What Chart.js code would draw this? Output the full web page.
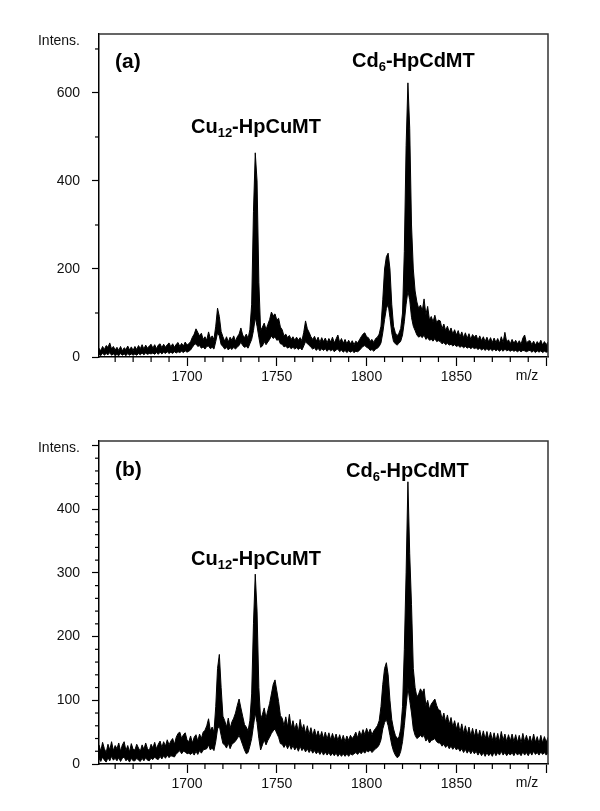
<!DOCTYPE html>
<html>
<head>
<meta charset="utf-8">
<script src="https://cdn.jsdelivr.net/npm/chart.js@4.4.0/dist/chart.umd.min.js"></script>
<style>
  html, body { margin: 0; padding: 0; background: #fff; }
  #wrap { position: relative; width: 600px; height: 811px; }
  canvas { position: absolute; left: 0; }
  #chartA { top: 0; }
  #chartB { top: 400px; }
</style>
</head>
<body>
<div id="wrap">
  <canvas id="chartA" width="600" height="400"></canvas>
  <canvas id="chartB" width="600" height="411"></canvas>
</div>
<script>
// m/z axis: one value per unit, starting at 1651
const mzStart = 1651;

// x ticks (shared)
const xMajor = [1700, 1750, 1800, 1850, 1900];
const xTickText = ['1700', '1750', '1800', '1850', ''];
const xMinor = [1660, 1670, 1680, 1690, 1710, 1720, 1730, 1740, 1760, 1770, 1780, 1790,
                1810, 1820, 1830, 1840, 1860, 1870, 1880, 1890];

// panel (a) y ticks
const yMajorA = [0, 200, 400, 600];
const yTickTextA = ['0', '200', '400', '600'];
const yMinorA = [100, 300, 500, 700];

// panel (b) y ticks
const yMajorB = [0, 100, 200, 300, 400, 500];
const yTickTextB = ['0', '100', '200', '300', '400', ''];
const yMinorB = [20, 40, 60, 80, 120, 140, 160, 180, 220, 240, 260, 280,
                 320, 340, 360, 380, 420, 440, 460, 480];

// panel (a): upper / lower edge of the signal band, m/z 1651..1901
const hiA = [
  20, 14, 24, 17, 26, 22, 32, 18, 24, 16,
  22, 15, 24, 14, 21, 17, 25, 16, 23, 15,
  24, 17, 26, 19, 28, 18, 27, 20, 25, 29,
  20, 28, 19, 27, 30, 21, 29, 22, 28, 32,
  23, 30, 22, 29, 33, 24, 31, 25, 34, 27,
  30, 35, 45, 52, 64, 56, 48, 54, 40, 46,
  38, 57, 42, 48, 40, 70, 111, 92, 58, 46,
  36, 46, 34, 45, 38, 48, 36, 46, 52, 66,
  50, 44, 52, 42, 62, 120, 330, 464, 400, 170,
  60, 68, 77, 62, 74, 85, 102, 94, 98, 84,
  88, 68, 62, 48, 52, 44, 49, 40, 46, 38,
  45, 38, 44, 37, 56, 82, 64, 56, 46, 40,
  47, 36, 45, 33, 44, 35, 43, 32, 42, 34,
  45, 32, 41, 50, 33, 42, 31, 40, 30, 38,
  30, 37, 28, 36, 32, 39, 46, 52, 55, 46,
  44, 36, 40, 33, 42, 45, 52, 70, 130, 200,
  228, 236, 200, 120, 70, 55, 48, 54, 65, 100,
  240, 480, 623, 520, 300, 200, 150, 125, 110, 118,
  105, 132, 96, 115, 84, 92, 80, 95, 78, 84,
  82, 64, 75, 60, 70, 56, 66, 52, 62, 50,
  60, 46, 57, 44, 55, 42, 53, 40, 51, 45,
  50, 38, 48, 37, 46, 35, 45, 34, 44, 33,
  43, 33, 42, 31, 46, 33, 56, 34, 39, 30,
  40, 31, 38, 30, 37, 29, 43, 50, 32, 36,
  37, 28, 36, 27, 35, 29, 38, 27, 35, 28,
  34
];
const loA = [
  7, 3, 9, 4, 8, 5, 10, 4, 7, 3,
  6, 3, 8, 4, 7, 3, 8, 4, 7, 4,
  7, 4, 8, 5, 9, 5, 9, 6, 8, 7,
  9, 6, 10, 6, 11, 7, 11, 8, 12, 8,
  11, 8, 12, 9, 12, 10, 13, 10, 14, 11,
  13, 16, 22, 28, 30, 24, 26, 20, 23, 18,
  24, 25, 19, 22, 18, 35, 55, 48, 28, 24,
  18, 22, 16, 21, 17, 22, 18, 23, 26, 34,
  26, 22, 24, 20, 30, 40, 60, 90, 70, 45,
  22, 25, 35, 28, 34, 40, 48, 42, 46, 38,
  40, 30, 29, 23, 25, 20, 23, 19, 22, 18,
  21, 17, 21, 16, 25, 35, 30, 27, 22, 18,
  21, 15, 20, 14, 19, 15, 19, 13, 18, 14,
  17, 12, 16, 18, 12, 16, 11, 15, 10, 14,
  11, 14, 10, 13, 12, 15, 20, 24, 26, 22,
  20, 15, 17, 13, 18, 20, 24, 32, 55, 85,
  110, 120, 90, 55, 35, 30, 27, 31, 36, 50,
  80, 120, 150, 130, 90, 70, 60, 50, 45, 48,
  44, 50, 40, 44, 38, 40, 36, 42, 35, 37,
  35, 30, 33, 28, 31, 27, 29, 25, 28, 24,
  26, 22, 25, 21, 24, 20, 23, 19, 22, 19,
  21, 17, 20, 16, 19, 15, 19, 15, 18, 14,
  18, 14, 17, 13, 17, 13, 18, 14, 16, 13,
  16, 13, 15, 12, 15, 12, 15, 14, 12, 14,
  15, 11, 14, 10, 14, 11, 14, 10, 13, 11,
  12
];

// panel (b)
const hiB = [
  30, 20, 34, 24, 18, 31, 22, 35, 21, 29,
  24, 33, 20, 30, 35, 21, 29, 19, 32, 23,
  22, 31, 25, 20, 30, 23, 33, 24, 21, 31,
  25, 34, 24, 31, 36, 26, 35, 28, 38, 30,
  36, 40, 31, 42, 48, 50, 40, 46, 49, 38,
  35, 44, 33, 42, 46, 36, 47, 40, 50, 53,
  60, 71, 52, 58, 50, 90, 150, 172, 120, 75,
  68, 58, 72, 56, 66, 72, 80, 92, 102, 88,
  75, 62, 58, 52, 68, 110, 220, 298, 240, 120,
  70, 78, 88, 72, 84, 95, 110, 125, 132, 115,
  98, 76, 72, 60, 74, 58, 78, 56, 68, 54,
  64, 50, 70, 53, 62, 48, 60, 46, 57, 44,
  55, 43, 52, 41, 51, 40, 50, 39, 49, 38,
  48, 38, 47, 37, 46, 36, 45, 35, 44, 37,
  45, 40, 44, 50, 41, 52, 44, 54, 46, 56,
  48, 55, 46, 52, 56, 60, 68, 90, 125, 150,
  159, 140, 100, 70, 55, 45, 40, 42, 55, 90,
  180, 300, 443, 330, 250, 150, 120, 105, 110, 118,
  112, 118, 92, 100, 86, 94, 98, 102, 92, 85,
  84, 70, 80, 66, 77, 62, 73, 58, 68, 55,
  65, 50, 63, 48, 60, 46, 58, 44, 56, 43,
  55, 42, 53, 40, 52, 39, 51, 38, 50, 37,
  49, 36, 48, 35, 51, 37, 47, 35, 46, 36,
  47, 35, 46, 34, 45, 33, 48, 35, 45, 34,
  44, 33, 47, 34, 43, 32, 45, 33, 43, 34,
  42
];
const loB = [
  9, 4, 11, 6, 3, 10, 5, 12, 6, 9,
  5, 10, 4, 9, 11, 5, 8, 3, 9, 5,
  5, 9, 6, 4, 9, 5, 10, 6, 5, 9,
  7, 11, 8, 7, 12, 8, 13, 9, 14, 10,
  13, 12, 11, 16, 18, 21, 16, 20, 19, 16,
  17, 15, 18, 14, 20, 15, 21, 17, 22, 23,
  24, 30, 22, 25, 21, 35, 55, 60, 45, 32,
  30, 25, 33, 24, 31, 33, 36, 40, 45, 38,
  30, 22, 16, 18, 28, 40, 60, 80, 65, 40,
  22, 30, 38, 30, 37, 42, 48, 52, 55, 48,
  42, 32, 31, 26, 31, 24, 31, 23, 29, 22,
  27, 20, 28, 21, 25, 19, 24, 18, 23, 17,
  21, 16, 20, 15, 20, 14, 19, 14, 18, 13,
  17, 13, 17, 12, 16, 12, 16, 12, 16, 12,
  16, 14, 16, 18, 15, 19, 16, 20, 17, 21,
  19, 22, 18, 21, 24, 26, 30, 38, 55, 65,
  70, 60, 45, 30, 20, 14, 10, 12, 20, 35,
  60, 90, 120, 100, 80, 55, 45, 40, 42, 45,
  42, 45, 36, 40, 33, 37, 38, 40, 35, 33,
  33, 28, 31, 26, 30, 24, 28, 23, 27, 22,
  25, 20, 24, 18, 23, 17, 22, 16, 21, 16,
  20, 14, 19, 13, 18, 12, 18, 13, 17, 12,
  19, 13, 18, 14, 20, 14, 18, 13, 17, 14,
  18, 13, 19, 14, 17, 13, 19, 14, 18, 13,
  19, 14, 20, 15, 18, 14, 19, 15, 18, 14,
  17
];

const FONT = '"Liberation Sans", Arial, Helvetica, sans-serif';
const tickFont = { family: FONT, size: 14 };

function toPoints(vals) {
  return vals.map((v, i) => ({ x: mzStart + i, y: v }));
}

// text with subscripts, parts = [[text, isSub], ...]
function drawFormula(ctx, x, y, parts) {
  ctx.textAlign = 'left';
  ctx.textBaseline = 'alphabetic';
  parts.forEach(([txt, sub]) => {
    ctx.font = sub ? 'bold 13px ' + FONT : 'bold 20px ' + FONT;
    ctx.fillText(txt, x, sub ? y + 4 : y);
    x += ctx.measureText(txt).width;
  });
}

function makePanel(canvasId, p) {
  const overlay = {
    id: 'overlay',
    afterDraw(chart) {
      const { ctx, chartArea: a } = chart;
      const xs = chart.scales.x, ys = chart.scales.y;
      ctx.save();
      // box top + right
      ctx.strokeStyle = '#333';
      ctx.lineWidth = 1.5;
      ctx.beginPath();
      ctx.moveTo(a.left, a.top);
      ctx.lineTo(a.right, a.top);
      ctx.lineTo(a.right, a.bottom);
      ctx.stroke();
      // minor ticks
      ctx.strokeStyle = '#000';
      ctx.lineWidth = 1.2;
      xMinor.forEach(v => {
        const px = xs.getPixelForValue(v);
        ctx.beginPath();
        ctx.moveTo(px, a.bottom);
        ctx.lineTo(px, a.bottom + 5);
        ctx.stroke();
      });
      p.yMinor.forEach(v => {
        const py = ys.getPixelForValue(v);
        ctx.beginPath();
        ctx.moveTo(a.left, py);
        ctx.lineTo(a.left - 4, py);
        ctx.stroke();
      });
      // axis captions
      ctx.fillStyle = '#111';
      ctx.font = '14px ' + FONT;
      ctx.textAlign = 'right';
      ctx.textBaseline = 'middle';
      ctx.fillText('Intens.', 80, a.top + 7);
      ctx.textAlign = 'center';
      ctx.textBaseline = 'top';
      ctx.fillText('m/z', 527, a.bottom + 12);
      // panel tag and peak names
      ctx.fillStyle = '#000';
      ctx.font = 'bold 21px ' + FONT;
      ctx.textAlign = 'left';
      ctx.textBaseline = 'middle';
      ctx.fillText(p.tag, 115, p.tagY);
      drawFormula(ctx, p.cd[0], p.cd[1], [['Cd', false], ['6', true], ['-HpCdMT', false]]);
      drawFormula(ctx, p.cu[0], p.cu[1], [['Cu', false], ['12', true], ['-HpCuMT', false]]);
      ctx.restore();
    }
  };

  return new Chart(document.getElementById(canvasId), {
    type: 'line',
    data: {
      datasets: [
        { data: toPoints(p.lo), borderColor: '#000', borderWidth: 1, pointRadius: 0, fill: false },
        { data: toPoints(p.hi), borderColor: '#000', backgroundColor: '#000', borderWidth: 1,
          pointRadius: 0, fill: '-1' }
      ]
    },
    options: {
      responsive: false,
      animation: false,
      devicePixelRatio: 1,
      layout: { padding: { top: p.padTop, right: 52, left: 0, bottom: 0 } },
      plugins: { legend: { display: false }, tooltip: { enabled: false } },
      scales: {
        x: {
          type: 'linear',
          min: 1651,
          max: 1901,
          afterBuildTicks: s => { s.ticks = xMajor.map(v => ({ value: v })); },
          afterFit: s => { s.height = p.xAxisHeight; },
          grid: { drawOnChartArea: false, tickLength: 9, tickWidth: 1.2, tickColor: '#000' },
          border: { color: '#000', width: 1.5 },
          ticks: {
            padding: 3, maxRotation: 0, autoSkip: false, color: '#111', font: tickFont,
            callback: (v, i) => xTickText[i]
          }
        },
        y: {
          min: 0,
          max: p.yMax,
          afterBuildTicks: s => { s.ticks = p.yMajor.map(v => ({ value: v })); },
          afterFit: s => { s.width = 99; },
          grid: { drawOnChartArea: false, tickLength: 7, tickWidth: 1.2, tickColor: '#000' },
          border: { color: '#000', width: 1.5 },
          ticks: {
            padding: 12, autoSkip: false, color: '#111', font: tickFont,
            callback: (v, i) => p.yTickText[i]
          }
        }
      }
    },
    plugins: [overlay]
  });
}

makePanel('chartA', {
  hi: hiA, lo: loA, yMax: 734, padTop: 34, xAxisHeight: 43,
  yMajor: yMajorA, yTickText: yTickTextA, yMinor: yMinorA,
  tag: '(a)', tagY: 62, cd: [352, 67], cu: [191, 133]
});

makePanel('chartB', {
  hi: hiB, lo: loB, yMax: 507, padTop: 41, xAxisHeight: 47,
  yMajor: yMajorB, yTickText: yTickTextB, yMinor: yMinorB,
  tag: '(b)', tagY: 70, cd: [346, 77], cu: [191, 165]
});
</script>
</body>
</html>
